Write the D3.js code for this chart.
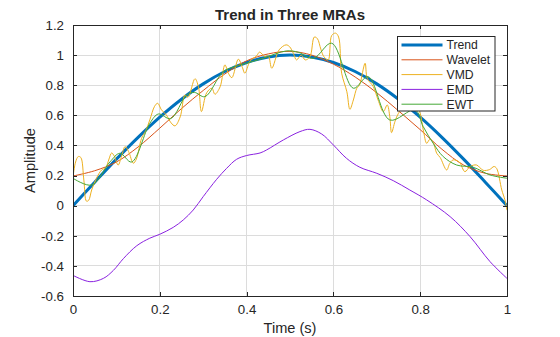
<!DOCTYPE html>
<html>
<head>
<meta charset="utf-8">
<script src="https://cdn.jsdelivr.net/npm/d3@7/dist/d3.min.js"></script>
<style>
  html, body { margin: 0; padding: 0; background: #fff; }
  svg { display: block; font-family: "Liberation Sans", Arial, Helvetica, sans-serif; }
</style>
</head>
<body>
<svg id="chart" width="560" height="337"></svg>
<script>
// Tick values
const xTicks = [0, 0.2, 0.4, 0.6, 0.8, 1];
const yTicks = [-0.6, -0.4, -0.2, 0, 0.2, 0.4, 0.6, 0.8, 1, 1.2];

// Series names, in legend order
const seriesNames = ["Trend", "Wavelet", "VMD", "EMD", "EWT"];
const seriesColors = ["#0072BD", "#D95319", "#EDB120", "#8A22E0", "#45A836"];

// Trend: [time, amplitude]
const trend = [
  [0, 0], [0.05, 0.156], [0.1, 0.309], [0.15, 0.454], [0.2, 0.588], [0.25, 0.707],
  [0.3, 0.809], [0.35, 0.891], [0.4, 0.951], [0.45, 0.988], [0.5, 1.0],
  [0.55, 0.988], [0.6, 0.951], [0.65, 0.891], [0.7, 0.809], [0.75, 0.707],
  [0.8, 0.588], [0.85, 0.454], [0.9, 0.309], [0.95, 0.156], [1, 0]
];

// Wavelet trend
const wavelet = [
  [0, 0.197], [0.05, 0.232], [0.1, 0.29], [0.15, 0.39], [0.2, 0.515], [0.25, 0.645],
  [0.3, 0.765], [0.35, 0.875], [0.4, 0.962], [0.45, 1.008], [0.5, 1.025],
  [0.55, 1.0], [0.6, 0.94], [0.65, 0.855], [0.7, 0.75], [0.75, 0.63],
  [0.8, 0.505], [0.85, 0.375], [0.9, 0.27], [0.95, 0.215], [1, 0.197]
];

// VMD trend
const vmd = [
  [0, 0.19], [0.006, 0.29], [0.012, 0.326], [0.018, 0.32], [0.025, 0.17], [0.031, 0.03],
  [0.036, 0.035], [0.043, 0.104], [0.054, 0.182], [0.066, 0.237], [0.075, 0.25],
  [0.083, 0.31], [0.089, 0.35], [0.095, 0.33], [0.104, 0.27], [0.112, 0.33],
  [0.12, 0.392], [0.128, 0.36], [0.139, 0.282], [0.146, 0.31], [0.158, 0.447],
  [0.168, 0.5], [0.177, 0.57], [0.188, 0.66], [0.195, 0.68], [0.204, 0.636],
  [0.215, 0.603], [0.226, 0.55], [0.235, 0.53], [0.247, 0.59], [0.258, 0.735],
  [0.265, 0.72], [0.281, 0.843], [0.289, 0.79], [0.296, 0.625], [0.308, 0.75],
  [0.32, 0.78], [0.327, 0.74], [0.339, 0.79], [0.35, 0.935], [0.358, 0.88],
  [0.366, 0.85], [0.381, 0.973], [0.39, 0.92], [0.396, 0.88], [0.408, 0.96],
  [0.423, 0.995], [0.43, 1.02], [0.442, 0.99], [0.45, 0.995], [0.458, 0.913],
  [0.475, 1.035], [0.491, 1.068], [0.499, 1.056], [0.508, 1.01], [0.515, 0.968],
  [0.526, 1.0], [0.535, 0.968], [0.546, 0.99], [0.556, 1.12], [0.563, 1.11],
  [0.571, 1.04], [0.578, 0.99], [0.588, 0.968], [0.596, 1.13], [0.605, 1.146],
  [0.612, 1.12], [0.619, 0.88], [0.631, 0.757], [0.638, 0.64], [0.646, 0.702],
  [0.654, 0.78], [0.66, 0.8], [0.673, 0.946], [0.678, 0.846], [0.692, 0.79],
  [0.703, 0.702], [0.715, 0.625], [0.724, 0.669], [0.73, 0.59], [0.734, 0.485],
  [0.742, 0.56], [0.75, 0.614], [0.765, 0.66], [0.78, 0.65], [0.796, 0.636],
  [0.807, 0.503], [0.815, 0.414], [0.822, 0.44], [0.83, 0.42], [0.838, 0.348],
  [0.846, 0.32], [0.861, 0.237], [0.868, 0.28], [0.876, 0.304], [0.89, 0.29],
  [0.903, 0.226], [0.915, 0.26], [0.93, 0.27], [0.945, 0.235], [0.96, 0.24],
  [0.97, 0.26], [0.976, 0.248], [0.988, 0.104], [0.995, 0.04], [1, -0.03]
];

// EMD trend
const emd = [
  [0, -0.463], [0.039, -0.505], [0.07, -0.483], [0.093, -0.43], [0.116, -0.352],
  [0.147, -0.266], [0.177, -0.216], [0.2, -0.19], [0.231, -0.144], [0.254, -0.095],
  [0.277, -0.029], [0.3, 0.06], [0.331, 0.175], [0.354, 0.248], [0.377, 0.308],
  [0.4, 0.333], [0.431, 0.35], [0.446, 0.37], [0.485, 0.437], [0.523, 0.492],
  [0.546, 0.507], [0.573, 0.476], [0.6, 0.403], [0.63, 0.315], [0.661, 0.255],
  [0.7, 0.215], [0.738, 0.166], [0.776, 0.104], [0.815, 0.038], [0.869, -0.073],
  [0.915, -0.206], [0.961, -0.372], [1, -0.483]
];

// EWT trend
const ewt = [
  [0, 0.182], [0.043, 0.137], [0.085, 0.29], [0.108, 0.348], [0.135, 0.29],
  [0.177, 0.547], [0.197, 0.609], [0.225, 0.578], [0.262, 0.735], [0.28, 0.752],
  [0.304, 0.724], [0.346, 0.89], [0.373, 0.924], [0.4, 0.946], [0.438, 0.979],
  [0.492, 1.028], [0.519, 1.019], [0.554, 0.979], [0.596, 1.079], [0.646, 0.78],
  [0.68, 0.857], [0.73, 0.569], [0.788, 0.636], [0.807, 0.525], [0.83, 0.414],
  [0.853, 0.326], [0.884, 0.27], [0.922, 0.255], [0.961, 0.204], [1, 0.182]
];

const seriesData = [trend, wavelet, vmd, emd, ewt];
const seriesWidths = [3, 1, 1, 1, 1];

const svg = d3.select("#chart");
const margin = { left: 73, right: 53, top: 25, bottom: 41 };
const W = 560, H = 337;
const x = d3.scaleLinear().domain([0, 1]).range([margin.left, W - margin.right]);
const y = d3.scaleLinear().domain([-0.6, 1.2]).range([H - margin.bottom, margin.top]);

const axisColor = "#262626";
const tickLen = 4;

// Grid
const grid = svg.append("g");
grid.selectAll("line.gx").data(xTicks).join("line")
  .attr("x1", d => x(d)).attr("x2", d => x(d))
  .attr("y1", y.range()[1]).attr("y2", y.range()[0])
  .attr("stroke", "#dcdcdc").attr("stroke-width", 1).attr("shape-rendering", "crispEdges");
grid.selectAll("line.gy").data(yTicks).join("line")
  .attr("x1", x.range()[0]).attr("x2", x.range()[1])
  .attr("y1", d => y(d)).attr("y2", d => y(d))
  .attr("stroke", "#dcdcdc").attr("stroke-width", 1).attr("shape-rendering", "crispEdges");

// Lines, clipped to the plot area
svg.append("clipPath").attr("id", "plotClip").append("rect")
  .attr("x", x.range()[0]).attr("y", y.range()[1])
  .attr("width", x.range()[1] - x.range()[0]).attr("height", y.range()[0] - y.range()[1]);

const line = d3.line().x(d => x(d[0])).y(d => y(d[1])).curve(d3.curveCatmullRom.alpha(0.5));
const plot = svg.append("g").attr("clip-path", "url(#plotClip)");
seriesData.forEach((data, i) => {
  plot.append("path")
    .datum(data)
    .attr("d", line)
    .attr("fill", "none")
    .attr("stroke", seriesColors[i])
    .attr("stroke-width", seriesWidths[i])
    .attr("stroke-linejoin", "round");
});

// Axes (ticks inside, box on); labels use a plain hyphen for negatives
const fmt = d => (Math.abs(d) < 1e-9 ? "0" : String(+d.toFixed(2)));
const axB = d3.axisBottom(x).tickValues(xTicks).tickSizeInner(-tickLen).tickSizeOuter(0).tickPadding(9).tickFormat(fmt);
const axL = d3.axisLeft(y).tickValues(yTicks).tickSizeInner(-tickLen).tickSizeOuter(0).tickPadding(9).tickFormat(fmt);
const axT = d3.axisTop(x).tickValues(xTicks).tickSizeInner(-tickLen).tickSizeOuter(0).tickFormat("");
const axR = d3.axisRight(y).tickValues(yTicks).tickSizeInner(-tickLen).tickSizeOuter(0).tickFormat("");

function styleAxis(g) {
  g.selectAll("path").attr("stroke", axisColor).attr("shape-rendering", "crispEdges");
  g.selectAll("line").attr("stroke", axisColor).attr("shape-rendering", "crispEdges");
  g.selectAll("text").attr("fill", axisColor).style("font-size", "13.3px")
    .style("font-family", "'Liberation Sans', Arial, sans-serif");
}
svg.append("g").attr("transform", `translate(0,${y.range()[0]})`).call(axB).call(styleAxis);
svg.append("g").attr("transform", `translate(${x.range()[0]},0)`).call(axL).call(styleAxis);
svg.append("g").attr("transform", `translate(0,${y.range()[1]})`).call(axT).call(styleAxis);
svg.append("g").attr("transform", `translate(${x.range()[1]},0)`).call(axR).call(styleAxis);

// Title and axis labels
svg.append("text").attr("x", (x.range()[0] + x.range()[1]) / 2).attr("y", 20)
  .attr("text-anchor", "middle").attr("fill", axisColor)
  .style("font-size", "15px").style("font-weight", "bold")
  .text("Trend in Three MRAs");
svg.append("text").attr("x", (x.range()[0] + x.range()[1]) / 2).attr("y", 333)
  .attr("text-anchor", "middle").attr("fill", axisColor)
  .style("font-size", "14.6px").text("Time (s)");
svg.append("text")
  .attr("transform", `translate(35,${(y.range()[0] + y.range()[1]) / 2}) rotate(-90)`)
  .attr("text-anchor", "middle").attr("fill", axisColor)
  .style("font-size", "14.6px").text("Amplitude");

// Legend
const lg = svg.append("g").attr("transform", "translate(397.5,36.5)");
lg.append("rect").attr("width", 97.5).attr("height", 74.5)
  .attr("fill", "#fff").attr("stroke", axisColor).attr("stroke-width", 1);
seriesNames.forEach((name, i) => {
  const yy = 8.5 + i * 14.8;
  lg.append("line").attr("x1", 4).attr("x2", 45).attr("y1", yy).attr("y2", yy)
    .attr("stroke", seriesColors[i]).attr("stroke-width", seriesWidths[i]);
  lg.append("text").attr("x", 49).attr("y", yy + 4.3).attr("fill", axisColor)
    .style("font-size", "12.2px").text(name);
});
</script>
</body>
</html>
